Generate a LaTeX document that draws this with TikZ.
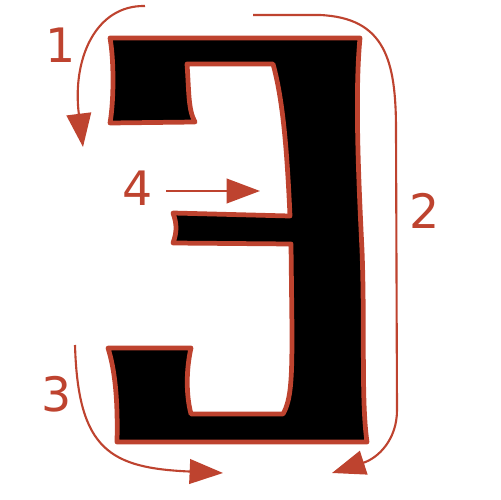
\documentclass[tikz,border=0pt]{standalone}
\usepackage{fontspec}
\setmainfont{DejaVu Sans}
\usetikzlibrary{arrows.meta}
\definecolor{rust}{RGB}{190,67,47}

\begin{document}
\begin{tikzpicture}[x=0.02cm,y=-0.02cm,>={Triangle[length=19pt,width=14pt]},
  lbl/.style={text=rust,font=\fontsize{27}{27}\selectfont,inner sep=0pt},
  arr/.style={->,draw=rust,line width=1.2pt}]
  \useasboundingbox (0,0) rectangle (500,500);

  % Glyph (mirrored E)
  \filldraw[fill=black,draw=rust,line width=2.7pt,line join=round]
    (110,38) -- (360,38)
    .. controls (355,90) and (358,170) .. (362,250)
    .. controls (365,330) and (361,400) .. (367,442)
    -- (117,442)
    .. controls (118,400) and (115,370) .. (108,348)
    -- (191,348)
    .. controls (186,370) and (186,395) .. (191,414)
    -- (283,414)
    .. controls (291,400) and (292,380) .. (292,330)
    -- (291,244) -- (173,243)
    .. controls (177,232) and (177,224) .. (173,213)
    -- (290,216)
    .. controls (287,150) and (283,100) .. (273,64)
    -- (187,64)
    .. controls (189,90) and (188,110) .. (195,122)
    -- (110,123)
    .. controls (114,100) and (114,60) .. cycle;

  % Arrow ends
  \coordinate (s1) at (145,6);
  \coordinate (e1) at (83,147);
  \coordinate (s2) at (253,15);
  \coordinate (e2) at (332,473);
  \coordinate (s3) at (75,345);
  \coordinate (e3) at (223,473);
  \coordinate (s4) at (166,191);
  \coordinate (e4) at (260,191);

  % Arrows
  \draw[arr] (s1) .. controls (95,5) and (72,60) .. (e1);
  \draw[arr] (s2) -- (320,15) .. controls (385,18) and (396,60) .. (396,130)
    -- (397,410) .. controls (397,440) and (378,458) .. (e2);
  \draw[arr] (s3) .. controls (78,450) and (110,468) .. (e3);
  \draw[arr] (s4) -- (e4);

  % Labels
  \node[lbl] (n1) at (61,45) {1};
  \node[lbl] (n2) at (425,211) {2};
  \node[lbl] (n3) at (57,394) {3};
  \node[lbl] (n4) at (138,188) {4};
\end{tikzpicture}
\end{document}
